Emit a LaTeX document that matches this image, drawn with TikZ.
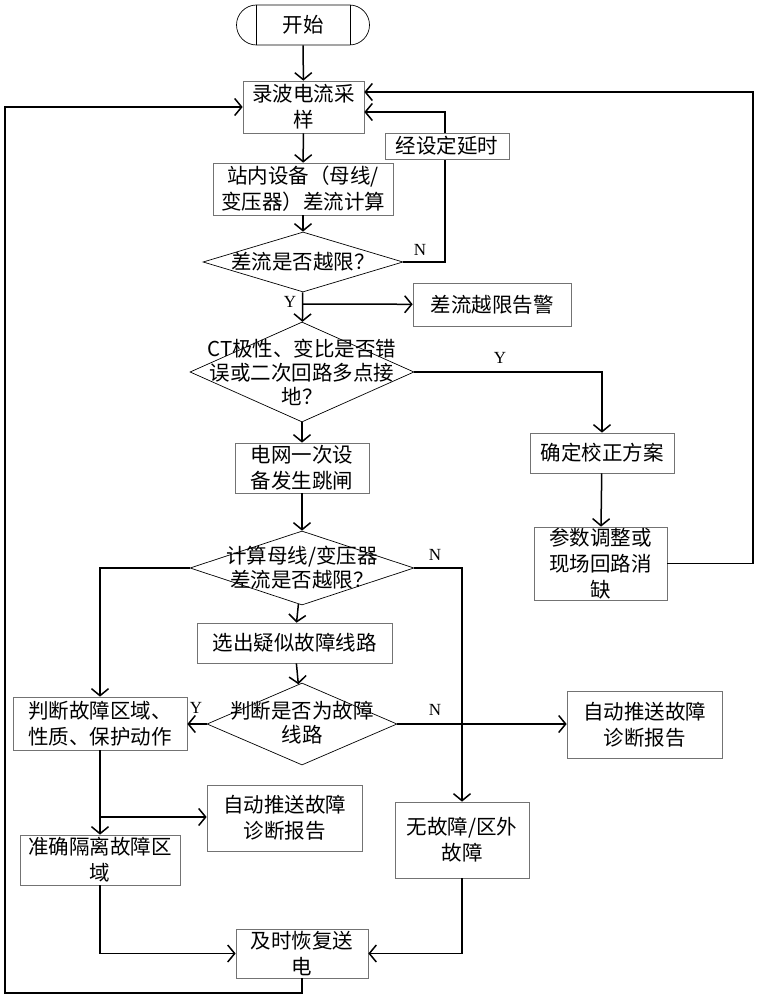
\documentclass[tikz,border=0pt]{standalone}
\usepackage{fontspec}
\setmainfont{Noto Sans CJK SC}
\newfontfamily\latinfont{Liberation Serif}
\usetikzlibrary{arrows.meta,shapes.geometric}

\begin{document}
\begin{tikzpicture}[x=1pt,y=-1pt,
  box/.style={draw=black!55, line width=0.7pt, fill=white, align=center, inner sep=0pt, font=\fontsize{20.5}{26}\selectfont},
  dec/.style={diamond, draw, line width=0.7pt, inner sep=0pt},
  dtxt/.style={align=center, inner sep=0pt, font=\fontsize{20.5}{24}\selectfont},
  arr/.style={-{Straight Barb[length=7pt,width=17pt]}, line width=1.5pt},
  yn/.style={font=\latinfont\fontsize{17}{17}\selectfont, inner sep=0pt}]
\useasboundingbox (0,0) rectangle (761,1000);
% start
\node[draw, line width=0.7pt, rounded corners=20pt, minimum width=133pt, minimum height=40pt, font=\fontsize{20.5}{26}\selectfont] (st0) at (303,25){开始};
\draw[line width=0.7pt] ([xshift=20pt]st0.north west) -- ([xshift=20pt]st0.south west);
\draw[line width=0.7pt] ([xshift=-20pt]st0.north east) -- ([xshift=-20pt]st0.south east);
% boxes
\node[box, minimum width=121pt, minimum height=52pt] (bx1) at (303.5,107){录波电流采\\样};
\node[box, minimum width=180pt, minimum height=52pt] (bx2) at (303,189){站内设备（母线/\\变压器）差流计算};
\node[box, minimum width=158pt, minimum height=43pt] (bx3) at (492,304.5){差流越限告警};
\node[box, minimum width=144pt, minimum height=40pt] (bx4) at (602,453){确定校正方案};
\node[box, minimum width=133pt, minimum height=73pt] (bx5) at (600.5,563.5){参数调整或\\现场回路消\\缺};
\node[box, minimum width=134pt, minimum height=50pt, align=left] (bx6) at (302,468){电网一次设\\备发生跳闸};
\node[box, minimum width=195pt, minimum height=40pt] (bx7) at (294.5,643){选出疑似故障线路};
\node[box, minimum width=174pt, minimum height=53pt] (bx8) at (100,723.5){判断故障区域、\\性质、保护动作};
\node[box, minimum width=155pt, minimum height=67pt] (bx9) at (644.5,724.5){自动推送故障\\诊断报告};
\node[box, minimum width=134pt, minimum height=76pt] (bx10) at (462,840){无故障/区外\\故障};
\node[box, minimum width=155pt, minimum height=66pt] (bx11) at (284.5,818){自动推送故障\\诊断报告};
\node[box, minimum width=160pt, minimum height=50pt] (bx12) at (100,860){准确隔离故障区\\域};
\node[box, minimum width=132pt, minimum height=49pt] (bx13) at (302,953.5){及时恢复送\\电};
% decisions
\node[dec, minimum width=200pt, minimum height=60pt] (dm1) at (303,262){};
\node[dtxt] at (dm1) {差流是否越限？};
\node[dec, minimum width=224pt, minimum height=100pt] (dm2) at (302,372){};
\node[dtxt] at (dm2) {CT极性、变比是否错\\误或二次回路多点接\\地？};
\node[dec, minimum width=224pt, minimum height=74pt] (dm3) at (302,568){};
\node[dtxt] at (dm3) {计算母线/变压器\\差流是否越限？};
\node[dec, minimum width=190pt, minimum height=82pt] (dm4) at (302,724){};
\node[dtxt] at ([yshift=1pt]dm4) {判断是否为故障\\线路};
% bends
\coordinate (k1) at (445,112);
\coordinate (k2) at (445,262);
\coordinate (k3) at (753,92);
\coordinate (k4) at (303,304);
\coordinate (k5) at (100,817);
\coordinate (k6) at (302,993);
\coordinate (k7) at (5,993);
\coordinate (k8) at (5,107);
% main line
\draw[arr] (st0) -- (bx1);
\draw[arr] (bx1) -- (bx2);
\draw[arr] (bx2) -- (dm1);
\draw[arr] (dm1) -- (dm2);
\draw[arr] (k4) -- (bx3);
\draw[arr] (dm2) -- (bx6);
\draw[arr] (bx6) -- (dm3);
\draw[arr] (dm3) -- (bx7);
\draw[arr] (bx7) -- (dm4);
% loops back
\draw[arr] (dm1.east) -- (k2) -- (k1) -- (bx1.east |- k1);
\node[box, minimum width=124pt, minimum height=26pt] (dl0) at (447,146){经设定延时};
\draw[arr] (dm2.east) -| (bx4.north);
\draw[arr] (bx4) -- (bx5);
\draw[arr] (bx5.east) -| (k3) -- (bx1.east |- k3);
% fault branches
\draw[arr] (dm3.east) -| (bx10.north);
\draw[arr] (dm3.west) -| (bx8.north);
\draw[arr] (dm4.west) -- (bx8.east |- dm4.west);
\draw[arr] (dm4.east) -- (bx9.west |- dm4.east);
\draw[arr] (bx8) -- (bx12);
\draw[arr] (k5) -- (bx11.west |- k5);
\draw[arr] (bx12.south) |- (bx13.west);
\draw[arr] (bx10.south) |- (bx13.east);
\draw[arr] (bx13.south) -- (k6) -- (k7) -- (k8) -- (bx1.west);
% labels
\node[yn] (y1) at (290,302){Y};
\node[yn] (n1) at (420,250){N};
\node[yn] (y2) at (500,358){Y};
\node[yn] (n2) at (435,555){N};
\node[yn] (y3) at (196,708){Y};
\node[yn] (n3) at (435,710){N};
\end{tikzpicture}
\end{document}
